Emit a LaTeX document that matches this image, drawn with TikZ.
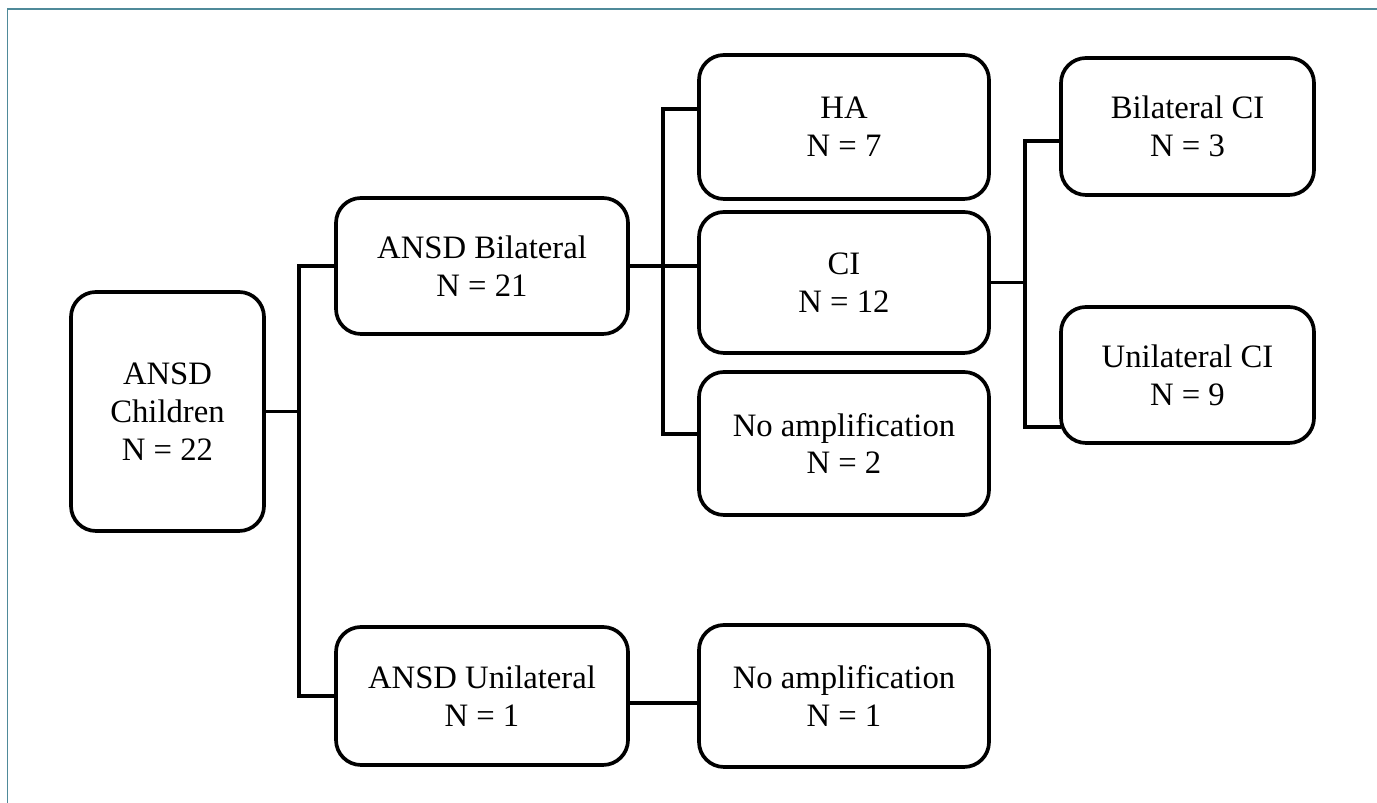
\documentclass[tikz,border=0pt]{standalone}
\usepackage{fontspec}
\setmainfont{Liberation Serif}
\usetikzlibrary{positioning}
\definecolor{Frame}{HTML}{4F8A99}

\begin{document}
\begin{tikzpicture}[
      box/.style={draw,line width=2.1pt,rounded corners=0.5cm,minimum width=5.8cm,minimum height=2.8cm,align=center,font=\fontsize{18.6}{21.5}\selectfont},
      link/.style={line width=2pt,line cap=rect}]
      \useasboundingbox (0,0) rectangle (27.54,16.06);
      \draw[Frame,line width=0.6pt] (0.15,0) -- (0.15,15.88) -- (27.54,15.88);
      \node[box,minimum width=3.86cm,minimum height=4.78cm] (kids) at (3.35,7.83) {ANSD\\Children\\N = 22};
      \node[box,minimum width=5.84cm,minimum height=2.72cm] (bil) at (9.64,10.74) {ANSD Bilateral\\N = 21};
      \node[box,minimum width=5.84cm,minimum height=2.76cm] (uni) at (9.64,2.14) {ANSD Unilateral\\N = 1};
      \node[box,minimum height=2.88cm] (ha) at (16.88,13.52) {HA\\N = 7};
      \node[box,minimum height=2.82cm] (ci) at (16.88,10.41) {CI\\N = 12};
      \node[box,minimum height=2.86cm] (noamp) at (16.88,7.19) {No amplification\\N = 2};
      \node[box,minimum height=2.84cm] (noampu) at (16.88,2.14) {No amplification\\N = 1};
      \node[box,minimum width=5.06cm,minimum height=2.74cm] (bilci) at (23.75,13.53) {Bilateral CI\\N = 3};
      \node[box,minimum width=5.06cm,minimum height=2.72cm] (unici) at (23.75,8.56) {Unilateral CI\\N = 9};
      \coordinate (j1) at (5.98,0);
      \coordinate (j2) at (13.26,0);
      \coordinate (j3) at (20.5,0);
      % first split
      \draw[link] (kids.east) -- (kids.east -| j1);
      \draw[link] (bil.west) -- (bil.west -| j1) -- (uni.west -| j1) -- (uni.west);
      % bilateral split
      \draw[link] ([yshift=0.36cm]ha.west) -- ([yshift=0.36cm]ha.west -| j2) -- ([yshift=0.19cm]noamp.west -| j2) -- ([yshift=0.19cm]noamp.west);
      \draw[link] (bil.east) -- ([yshift=0.33cm]ci.west);
      % CI split
      \draw[link] (ci.east) -- (ci.east -| j3);
      \draw[link] ([yshift=-0.29cm]bilci.west) -- ([yshift=-0.29cm]bilci.west -| j3) -- ([yshift=-1.04cm]unici.west -| j3) -- ([yshift=-1.04cm]unici.west);
      % unilateral
      \draw[link] ([yshift=-0.14cm]uni.east) -- ([yshift=-0.14cm]noampu.west);
    \end{tikzpicture}
\end{document}
